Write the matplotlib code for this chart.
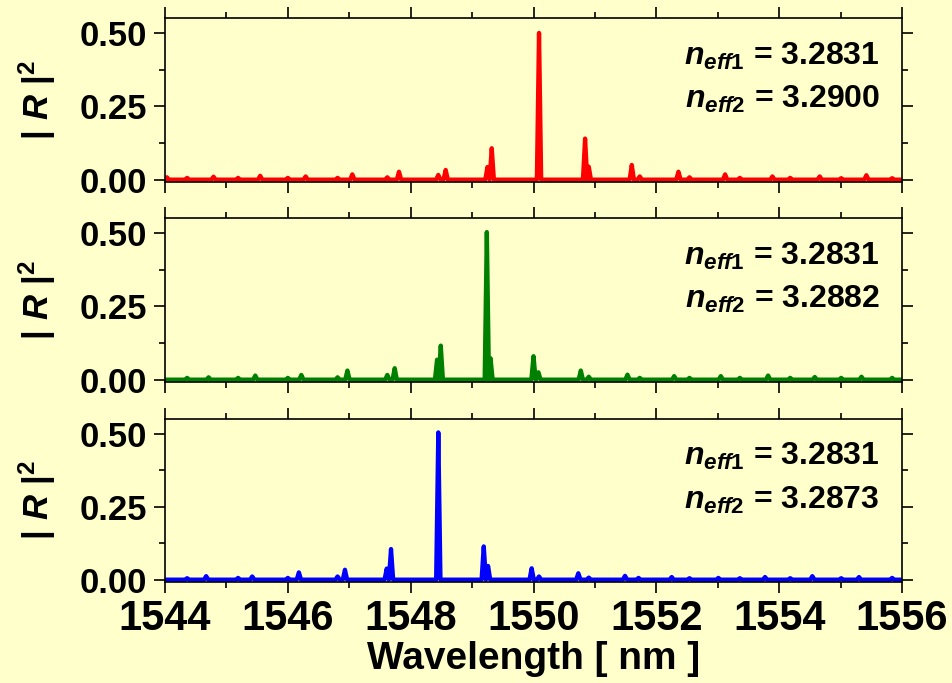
import numpy as np
import matplotlib
matplotlib.use("Agg")
import matplotlib.pyplot as plt
from matplotlib.ticker import MultipleLocator

# --- data (peak centre in nm, peak height |R|^2) ---
red_peaks = [1544.03, 1544.36, 1544.79, 1545.19, 1545.55, 1546.00, 1546.29, 1546.81,
             1547.05, 1547.62, 1547.81, 1548.45, 1548.57, 1549.25, 1549.32, 1550.09,
             1550.84, 1550.90, 1551.60, 1551.73, 1552.36, 1552.54, 1553.12, 1553.36,
             1553.89, 1554.18, 1554.66, 1555.01, 1555.42, 1555.84]
red_heights = [0.008, 0.006, 0.010, 0.006, 0.013, 0.006, 0.011, 0.006,
               0.018, 0.008, 0.027, 0.016, 0.033, 0.043, 0.107, 0.500,
               0.140, 0.044, 0.050, 0.011, 0.027, 0.008, 0.018, 0.006,
               0.011, 0.006, 0.011, 0.005, 0.015, 0.005]

green_peaks = [1544.36, 1544.71, 1545.19, 1545.47, 1546.00, 1546.22, 1546.81, 1546.97,
               1547.62, 1547.74, 1548.43, 1548.49, 1549.24, 1549.30, 1550.00, 1550.08,
               1550.77, 1550.90, 1551.53, 1551.73, 1552.29, 1552.54, 1553.05, 1553.36,
               1553.82, 1554.18, 1554.58, 1555.01, 1555.34, 1555.84]
green_heights = [0.006, 0.008, 0.006, 0.014, 0.006, 0.016, 0.008, 0.031,
                 0.016, 0.039, 0.068, 0.116, 0.503, 0.073, 0.080, 0.025,
                 0.031, 0.010, 0.017, 0.006, 0.012, 0.006, 0.012, 0.006,
                 0.014, 0.006, 0.009, 0.006, 0.010, 0.006]

blue_peaks = [1544.36, 1544.67, 1545.19, 1545.42, 1546.00, 1546.18, 1546.81, 1546.93,
              1547.61, 1547.68, 1548.45, 1549.19, 1549.26, 1549.97, 1550.09, 1550.73,
              1550.90, 1551.49, 1551.71, 1552.25, 1552.54, 1553.01, 1553.36, 1553.77,
              1554.18, 1554.54, 1555.01, 1555.30, 1555.84]
blue_heights = [0.005, 0.012, 0.006, 0.011, 0.006, 0.025, 0.011, 0.034,
                0.038, 0.105, 0.505, 0.114, 0.047, 0.039, 0.011, 0.022,
                0.007, 0.013, 0.006, 0.009, 0.005, 0.006, 0.005, 0.009,
                0.005, 0.012, 0.005, 0.009, 0.006]

neff1 = ["3.2831", "3.2831", "3.2831"]
neff2 = ["3.2900", "3.2882", "3.2873"]
colors = ["#ff0000", "#008000", "#0000ff"]
xticks = [1544, 1546, 1548, 1550, 1552, 1554, 1556]
yticks = [0.00, 0.25, 0.50]

BG = "#ffffcc"

plt.rcParams["font.family"] = ["Liberation Sans", "DejaVu Sans"]
plt.rcParams["font.weight"] = "bold"
plt.rcParams["mathtext.fontset"] = "custom"
plt.rcParams["mathtext.rm"] = "Liberation Sans:bold"
plt.rcParams["mathtext.bf"] = "Liberation Sans:bold"
plt.rcParams["mathtext.it"] = "Liberation Sans:italic:bold"


def peak_line(centres, heights, hw=0.035):
    # draw each peak as a narrow spike on a flat baseline
    order = np.argsort(centres)
    xs, ys = [xticks[0]], [0.0]
    for i in order:
        c, h = centres[i], heights[i]
        xs += [c - hw, c, c + hw]
        ys += [0.0, h, 0.0]
    xs.append(xticks[-1])
    ys.append(0.0)
    return xs, ys


fig = plt.figure(figsize=(9.52, 6.83), dpi=100, facecolor=BG)

# panel boxes in pixels (top, bottom) from the reference
left, right = 165 / 952, 902 / 952
boxes = [(18, 182), (218, 382), (419, 582)]
series = [(red_peaks, red_heights), (green_peaks, green_heights), (blue_peaks, blue_heights)]

for k, ((top, bot), (pk, ht)) in enumerate(zip(boxes, series)):
    ax = fig.add_axes([left, 1 - bot / 683, right - left, (bot - top) / 683])
    ax.set_facecolor(BG)
    xs, ys = peak_line(pk, ht)
    ax.plot(xs, ys, color=colors[k], lw=3.1, solid_joinstyle="round")
    ax.set_xlim(xticks[0], xticks[-1])
    ax.set_ylim(-0.008, 0.551)
    ax.set_xticks(xticks)
    ax.set_yticks(yticks)
    ax.xaxis.set_minor_locator(MultipleLocator(1))
    ax.yaxis.set_minor_locator(MultipleLocator(0.125))
    ax.set_yticklabels(["%.2f" % v for v in yticks], fontsize=25, fontweight="bold")
    ax.tick_params(which="both", direction="out", top=True, right=True, width=1.2)
    ax.tick_params(which="major", length=8)
    ax.tick_params(which="minor", length=4.3)
    ax.tick_params(axis="y", pad=5)
    if k < 2:
        ax.set_xticklabels([])
    else:
        ax.set_xticklabels([str(v) for v in xticks], fontsize=30, fontweight="bold")
        ax.tick_params(axis="x", pad=4)
        ax.set_xlabel("Wavelength [ nm ]", fontsize=28, fontweight="bold", labelpad=2)
    for s in ax.spines.values():
        s.set_linewidth(1.2)
    ax.set_ylabel(r"$\mathbf{|}\ R\ \mathbf{|}^{\mathbf{2}}$", fontsize=25)
    ax.yaxis.set_label_coords(-0.145, 0.5)

    ax.text(0.97, 0.716, r"$n_{\mathit{eff1}}$ = " + neff1[k], transform=ax.transAxes,
            ha="right", va="baseline", fontsize=23, fontweight="bold")
    ax.text(0.97, 0.45, r"$n_{\mathit{eff2}}$ = " + neff2[k], transform=ax.transAxes,
            ha="right", va="baseline", fontsize=23, fontweight="bold")

fig.savefig("out.png", dpi=100, facecolor=BG)
